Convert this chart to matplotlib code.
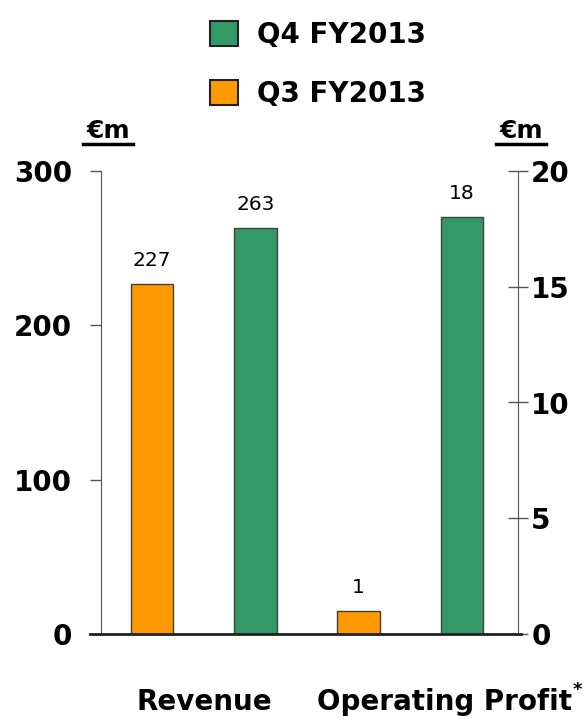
import matplotlib
matplotlib.use("Agg")
import matplotlib.pyplot as plt
from matplotlib.patches import Patch
from matplotlib.lines import Line2D

# data
periods = ["Q4 FY2013", "Q3 FY2013"]
categories = ["Revenue", "Operating Profit"]
revenue = {"Q3 FY2013": 227, "Q4 FY2013": 263}
op_profit = {"Q3 FY2013": 1, "Q4 FY2013": 18}
left_ticks = [0, 100, 200, 300]
right_ticks = [0, 5, 10, 15, 20]

colors = {"Q4 FY2013": "#339966", "Q3 FY2013": "#FF9900"}
edge = "#404040"

fig = plt.figure(figsize=(5.88, 7.21), dpi=100)
W, H = 588, 721
ax = fig.add_axes([101 / W, 1 - 634 / H, 417 / W, 463 / H])
ax2 = ax.twinx()

bw = 0.41
order = ["Q3 FY2013", "Q4 FY2013"]
# revenue bars on left axis at x=0,1
for i, p in enumerate(order):
    v = revenue[p]
    ax.bar(i, v, width=bw, color=colors[p], edgecolor=edge, linewidth=1, zorder=3)
    ax.text(i, v + 300 * 0.03, str(v), ha="center", va="bottom", fontsize=14.5)
# operating profit bars on right axis at x=2,3
for i, p in enumerate(order):
    v = op_profit[p]
    ax2.bar(i + 2, v, width=bw, color=colors[p], edgecolor=edge, linewidth=1, zorder=3)
    ax2.text(i + 2, v + 20 * 0.03, str(v), ha="center", va="bottom", fontsize=14.5)

ax.set_xlim(-0.494, 3.542)
ax.set_ylim(0, 300)
ax2.set_ylim(0, 20)
ax.set_yticks(left_ticks)
ax2.set_yticks(right_ticks)
ax.set_xticks([])

for a in (ax, ax2):
    a.spines["top"].set_visible(False)
    a.spines["left"].set_color("#555555")
    a.spines["right"].set_color("#555555")
    a.spines["bottom"].set_visible(False)
ax.spines["right"].set_visible(False)
ax2.spines["left"].set_visible(False)

ax.tick_params(axis="y", direction="out", length=8, width=1, color="#555555",
               labelsize=20, pad=13)
ax2.tick_params(axis="y", direction="inout", length=15, width=1, color="#555555",
                labelsize=20, pad=2)
for lab in ax.get_yticklabels() + ax2.get_yticklabels():
    lab.set_fontweight("bold")

# baseline
fig.add_artist(Line2D([90 / W, 521 / W], [1 - 634 / H] * 2, color="#222222", lw=2))

# €m axis unit labels with underline
for xc in (108, 521):
    fig.text(xc / W, 1 - 131 / H, "€m", ha="center", va="center",
             fontsize=18, fontweight="bold")
    fig.add_artist(Line2D([(xc - 25) / W, (xc + 25) / W], [1 - 144 / H] * 2,
                          color="black", lw=2.5))

# category labels
fig.text(204 / W, 1 - 702 / H, categories[0], ha="center", va="center",
         fontsize=20, fontweight="bold")
fig.text(572 / W, 1 - 702 / H, categories[1], ha="right", va="center",
         fontsize=20, fontweight="bold")
fig.text(573 / W, 1 - 690 / H, "*", ha="left", va="center",
         fontsize=13, fontweight="bold")

handles = [Patch(facecolor=colors[p], edgecolor="#222222", linewidth=1.5) for p in periods]
fig.legend(handles, periods, loc="upper center", bbox_to_anchor=(318 / W, 1.005),
           frameon=False, handlelength=1.0, handleheight=1.0, handletextpad=0.7,
           labelspacing=1.1, prop={"size": 20, "weight": "bold"})

fig.savefig("out.png", dpi=100)
